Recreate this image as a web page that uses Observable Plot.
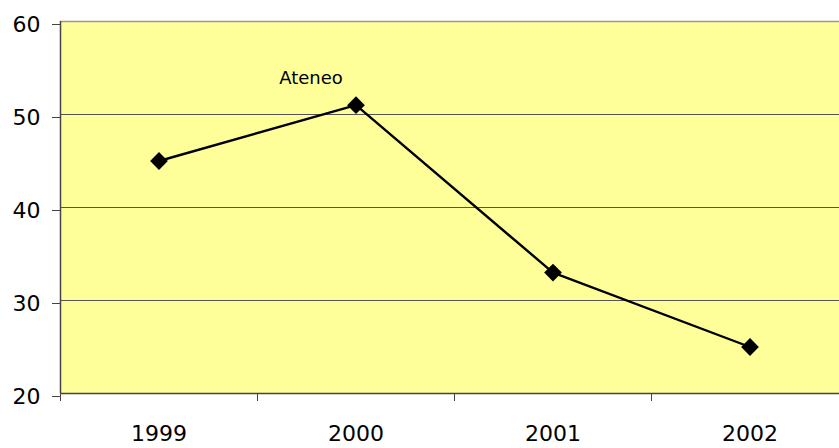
<!DOCTYPE html>
<html>
<head>
<meta charset="utf-8">
<script src="https://cdn.jsdelivr.net/npm/d3@7"></script>
<script src="https://cdn.jsdelivr.net/npm/@observablehq/plot@0.6"></script>
<style>
  html, body { margin: 0; padding: 0; background: #fff; overflow: hidden; }
  svg { display: block; }
</style>
</head>
<body>
<div id="chart"></div>
<script>
const years = [1999, 2000, 2001, 2002];
const values = [45, 51, 33, 25];
const seriesName = "Ateneo";
const yTicks = [20, 30, 40, 50, 60];
const gridValues = [30, 40, 50];

const data = years.map((y, i) => ({year: y, value: values[i]}));
const boundaries = [years[0] - 0.5, ...years.map(y => y + 0.5)];

const chart = Plot.plot({
  width: 839,
  height: 448,
  marginLeft: 60,
  marginRight: 0,
  marginTop: 21,
  marginBottom: 55,
  style: {fontFamily: "'DejaVu Sans', sans-serif", fontSize: "22px", background: "#fff", color: "#000"},
  x: {domain: [years[0] - 0.5, years[years.length - 1] + 0.5], range: [60, 848]},
  y: {domain: [20, 60]},
  marks: [
    Plot.frame({fill: "#ffff99", stroke: null}),
    Plot.ruleY(gridValues, {stroke: "#555", strokeWidth: 1}),
    Plot.ruleY([60], {stroke: "#999", strokeWidth: 1.5}),
    Plot.ruleY([20], {stroke: "#444", strokeWidth: 1.5}),
    Plot.ruleX([years[0] - 0.5], {stroke: "#444", strokeWidth: 1.5}),
    Plot.axisY({ticks: yTicks, tickSize: 8, tickPadding: 12, fontSize: 22, dy: 3, stroke: "#444", label: null, tickFormat: d => String(d)}),
    Plot.axisX({ticks: boundaries, tickSize: 8, tickFormat: () => "", stroke: "#444", label: null}),
    Plot.axisX({ticks: years, tickSize: 0, tickPadding: 32, fontSize: 22, tickFormat: d => String(d), label: null}),
    Plot.line(data, {x: "year", y: "value", stroke: "#000", strokeWidth: 2.4}),
    Plot.dot(data, {x: "year", y: "value", symbol: "diamond2", r: 8, fill: "#000", stroke: "#000", strokeWidth: 0}),
    Plot.text(data.filter(d => d.year === 2000), {x: "year", y: "value", text: () => seriesName, dx: -45, dy: -27, fontSize: 18, fill: "#000"})
  ]
});
document.getElementById("chart").appendChild(chart);
</script>
</body>
</html>
